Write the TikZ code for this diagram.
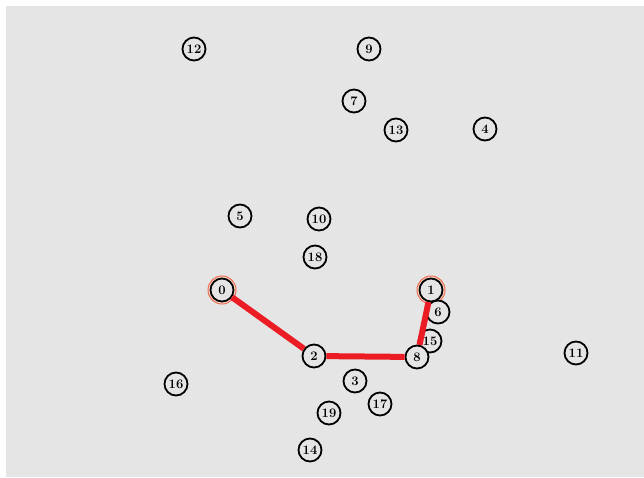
\documentclass[tikz,border=0pt]{standalone}
\usetikzlibrary{positioning}

\begin{document}
\begin{tikzpicture}[
  x=1pt, y=-1pt,
  vtx/.style={draw, circle, line width=1.8pt, fill=black!10, minimum size=23pt, inner sep=0pt, font=\fontsize{13}{13}\selectfont\bfseries},
  path/.style={draw={rgb,255:red,235;green,28;blue,36}, line width=6pt},
  halo/.style={draw={rgb,255:red,240;green,110;blue,80}, line width=1pt, fill={rgb,255:red,245;green,215;blue,205}}
]
\useasboundingbox (0,0) rectangle (644,477);
\fill[white] (0,0) rectangle (644,477);
\fill[black!10] (6,6) rectangle (644,477);
% terminals
\draw[halo] (222,290) circle[radius=14];
\draw[halo] (431,290) circle[radius=14];
\node[vtx] (n0) at (222,290) {0};
\node[vtx] (n1) at (431,290) {1};
\node[vtx] (n2) at (314,356) {2};
\node[vtx] (n3) at (355,381) {3};
\node[vtx] (n4) at (485,129) {4};
\node[vtx] (n5) at (240,216) {5};
\node[vtx] (n6) at (438,312) {6};
\node[vtx] (n7) at (354,101) {7};
\node[vtx] (n9) at (369,49) {9};
\node[vtx] (n10) at (319,219) {10};
\node[vtx] (n11) at (576,353) {11};
\node[vtx] (n12) at (194,49) {12};
\node[vtx] (n13) at (396,130) {13};
\node[vtx] (n14) at (310,450) {14};
\node[vtx] (n15) at (430,341) {15};
\node[vtx] (n16) at (176,384) {16};
\node[vtx] (n17) at (380,404) {17};
\node[vtx] (n18) at (315,257) {18};
\node[vtx] (n19) at (329,413) {19};
\node[vtx] (n8) at (417,357) {8};
% route
\draw[path] (n0) -- (n2);
\draw[path] (n2) -- (n8);
\draw[path] (n8) -- (n1);
\end{tikzpicture}
\end{document}
